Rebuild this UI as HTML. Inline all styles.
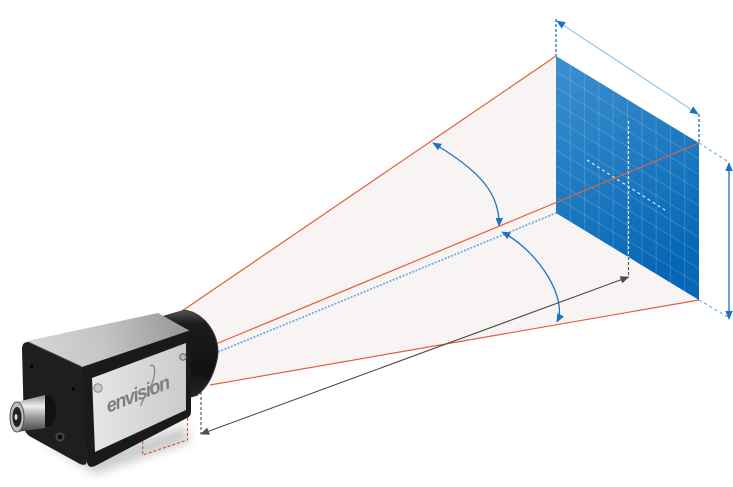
<!DOCTYPE html>
<html><head><meta charset="utf-8"><style>
html,body{margin:0;padding:0;background:#fff;}
svg{display:block;}
</style></head><body>
<svg width="733" height="487" viewBox="0 0 733 487" xmlns="http://www.w3.org/2000/svg">
<defs>
<marker id="ab" viewBox="0 0 10 10" refX="9" refY="5" markerWidth="9" markerHeight="9" markerUnits="userSpaceOnUse" orient="auto-start-reverse"><path d="M0,0.8 L10,5 L0,9.2 Z" fill="#1a74c2"/></marker>
<marker id="ag" viewBox="0 0 10 10" refX="9" refY="5" markerWidth="9" markerHeight="9" markerUnits="userSpaceOnUse" orient="auto-start-reverse"><path d="M0,0.8 L10,5 L0,9.2 Z" fill="#4d4d4d"/></marker>
<linearGradient id="pl" x1="0" y1="0" x2="0.3" y2="1"><stop offset="0" stop-color="#3d90d0"/><stop offset="1" stop-color="#0567b5"/></linearGradient>
<linearGradient id="top" gradientUnits="userSpaceOnUse" x1="30" y1="345" x2="175" y2="318"><stop offset="0" stop-color="#d6d6d6"/><stop offset="0.5" stop-color="#c4c4c4"/><stop offset="1" stop-color="#9c9c9c"/></linearGradient>
<linearGradient id="side" x1="0" y1="0" x2="1" y2="0"><stop offset="0" stop-color="#e6e6e6"/><stop offset="1" stop-color="#cbcbcb"/></linearGradient>
<linearGradient id="lens" x1="0" y1="0" x2="0" y2="1"><stop offset="0" stop-color="#555"/><stop offset="0.15" stop-color="#1c1c1c"/><stop offset="0.7" stop-color="#111"/><stop offset="1" stop-color="#2a2a2a"/></linearGradient>
<linearGradient id="conn" x1="0" y1="0" x2="0" y2="1"><stop offset="0" stop-color="#888"/><stop offset="0.3" stop-color="#eee"/><stop offset="0.6" stop-color="#999"/><stop offset="1" stop-color="#444"/></linearGradient>
<filter id="blur" x="-20%" y="-50%" width="140%" height="200%"><feGaussianBlur stdDeviation="5"/></filter>
</defs>

<!-- frustum fill -->
<polygon points="182,311 556,56 699,143 699,300 210,385" fill="#f9f4f4"/>
<!-- orange lines top & bottom -->
<line x1="182" y1="311" x2="556" y2="56" stroke="#e3603b" stroke-width="1.2"/>
<line x1="210" y1="385" x2="699" y2="300" stroke="#e3603b" stroke-width="1.2"/>
<!-- center dotted line -->
<line x1="218" y1="352" x2="556" y2="213" stroke="#6aaee2" stroke-width="1.8" stroke-dasharray="2 1.5"/>
<!-- angle arcs -->
<path d="M433,143 C482,172 500,195 499,226" fill="none" stroke="#1a74c2" stroke-width="1.3" marker-start="url(#ab)" marker-end="url(#ab)"/>
<path d="M502,232 C540,252 568,300 557,322" fill="none" stroke="#1a74c2" stroke-width="1.3" marker-start="url(#ab)" marker-end="url(#ab)"/>
<!-- gray distance arrow -->
<line x1="201" y1="434" x2="628.5" y2="277" stroke="#4d4d4d" stroke-width="1.1" marker-start="url(#ag)" marker-end="url(#ag)"/>
<line x1="201" y1="392" x2="201" y2="434" stroke="#4d4d4d" stroke-width="1.1" stroke-dasharray="3 2"/>
<line x1="628.5" y1="257" x2="628.5" y2="277" stroke="#4d4d4d" stroke-width="1.1" stroke-dasharray="3 2"/>

<!-- plane -->
<polygon points="556,56 699,143 699,300 556,213" fill="url(#pl)"/>
<g stroke="#ffffff" stroke-opacity="0.16" stroke-width="1">
<line x1="570.3" y1="64.7" x2="570.3" y2="221.7"/>
<line x1="584.6" y1="73.4" x2="584.6" y2="230.4"/>
<line x1="598.9" y1="82.1" x2="598.9" y2="239.1"/>
<line x1="613.2" y1="90.8" x2="613.2" y2="247.8"/>
<line x1="627.5" y1="99.5" x2="627.5" y2="256.5"/>
<line x1="641.8" y1="108.2" x2="641.8" y2="265.2"/>
<line x1="656.1" y1="116.9" x2="656.1" y2="273.9"/>
<line x1="670.4" y1="125.6" x2="670.4" y2="282.6"/>
<line x1="684.7" y1="134.3" x2="684.7" y2="291.3"/>
<line x1="556" y1="71.7" x2="699" y2="158.7"/>
<line x1="556" y1="87.4" x2="699" y2="174.4"/>
<line x1="556" y1="103.1" x2="699" y2="190.1"/>
<line x1="556" y1="118.8" x2="699" y2="205.8"/>
<line x1="556" y1="134.5" x2="699" y2="221.5"/>
<line x1="556" y1="150.2" x2="699" y2="237.2"/>
<line x1="556" y1="165.9" x2="699" y2="252.9"/>
<line x1="556" y1="181.6" x2="699" y2="268.6"/>
<line x1="556" y1="197.3" x2="699" y2="284.3"/>
</g>
<!-- white dashed in plane -->
<line x1="587" y1="160" x2="668" y2="212" stroke="#fff" stroke-opacity="0.85" stroke-width="1.2" stroke-dasharray="3 3"/>
<line x1="628.5" y1="121" x2="628.5" y2="257" stroke="#fff" stroke-opacity="0.9" stroke-width="1.2" stroke-dasharray="3 2"/>
<!-- middle orange line over plane -->
<line x1="216" y1="344" x2="699" y2="143" stroke="#e3603b" stroke-width="1.2"/>

<!-- top width dimension -->
<line x1="556" y1="19" x2="556" y2="56" stroke="#1a74c2" stroke-width="1.3" stroke-dasharray="3 2"/>
<line x1="699" y1="114" x2="699" y2="143" stroke="#1a74c2" stroke-width="1.3" stroke-dasharray="3 2"/>
<line x1="557" y1="21" x2="698" y2="114" stroke="#7db9e6" stroke-width="1" marker-start="url(#ab)" marker-end="url(#ab)"/>
<!-- right height dimension -->
<line x1="699" y1="143" x2="727" y2="161" stroke="#6aaee0" stroke-width="1.2" stroke-dasharray="3 3"/>
<line x1="699" y1="300" x2="728" y2="317" stroke="#6aaee0" stroke-width="1.2" stroke-dasharray="3 3"/>
<line x1="729" y1="163" x2="729" y2="319" stroke="#1a74c2" stroke-width="1.3" marker-start="url(#ab)" marker-end="url(#ab)"/>

<!-- orange dashed bracket under camera -->
<polyline points="187.5,413 187.5,440 142.7,455 142.7,440" fill="none" stroke="#e3603b" stroke-width="1.1" stroke-dasharray="3 2"/>

<!-- camera -->
<polygon points="40,440 95,474 190,442 185,425 95,455" fill="#000" opacity="0.2" filter="url(#blur)"/>
<!-- lens -->
<path d="M156,318 L183,310 C206,312 222,338 217,360 C213,378 206,389 196,396 L186,399 Z" fill="url(#lens)"/>
<path d="M183,310 C206,312 222,338 217,360 C213,378 206,389 196,396" fill="none" stroke="#3a3a3a" stroke-width="1"/>
<!-- top face -->
<path d="M27,341 L158,313 L190,331 L84,367 Z" fill="url(#top)"/>
<!-- left black face -->
<path d="M28,342 Q22,342 22,349 L24,427 Q25,434 31,437 L80,464 Q87,467 87,460 L85,373 Q85,368 80,366 Z" fill="#1e1e1e"/>
<path d="M28,342 L80,366 Q85,368 85,373" fill="none" stroke="#444" stroke-width="1"/>
<circle cx="31.5" cy="366.5" r="1.6" fill="#000"/>
<circle cx="73" cy="389" r="1.6" fill="#000"/>
<circle cx="60" cy="437" r="4" fill="#2e2e2e" stroke="#555" stroke-width="1"/>
<circle cx="60" cy="437" r="1.8" fill="#000"/>
<!-- right side black frame -->
<path d="M82,367 L188,331 Q191,330 191,334 L191,412 Q191,416 187,418 L95,466 Q88,469 87,462 Z" fill="#1a1a1a"/>
<!-- silver side panel -->
<path d="M92,378 L186,343 L186,410 L95,452 Z" fill="url(#side)"/>
<circle cx="98" cy="388" r="4.2" fill="#c9c9c9" stroke="#888" stroke-width="1"/>
<circle cx="183" cy="357" r="3.2" fill="#bbb" stroke="#666" stroke-width="1"/>
<!-- logo -->
<text x="0" y="0" transform="translate(108,413) rotate(-22) skewX(-10)" font-family="Liberation Sans, sans-serif" font-style="italic" font-weight="bold" font-size="19" fill="#7e7e7e" textLength="68">envision</text>
<path d="M150,366 C156,362 156,374 151,386 C147,395 141,401 141,406" fill="none" stroke="#8a8a8a" stroke-width="1.4"/>
<!-- connector -->
<ellipse cx="48" cy="411" rx="8" ry="16" fill="#111"/>
<path d="M17,402 L45,395 L45,428 L17,432 Z" fill="url(#conn)"/>
<ellipse cx="17" cy="417" rx="7" ry="15" fill="#bdbdbd" stroke="#555" stroke-width="1"/>
<ellipse cx="17" cy="417" rx="4.5" ry="10" fill="#222"/>
<ellipse cx="16" cy="417" rx="1.5" ry="3" fill="#ddd"/>
</svg>
</body></html>
